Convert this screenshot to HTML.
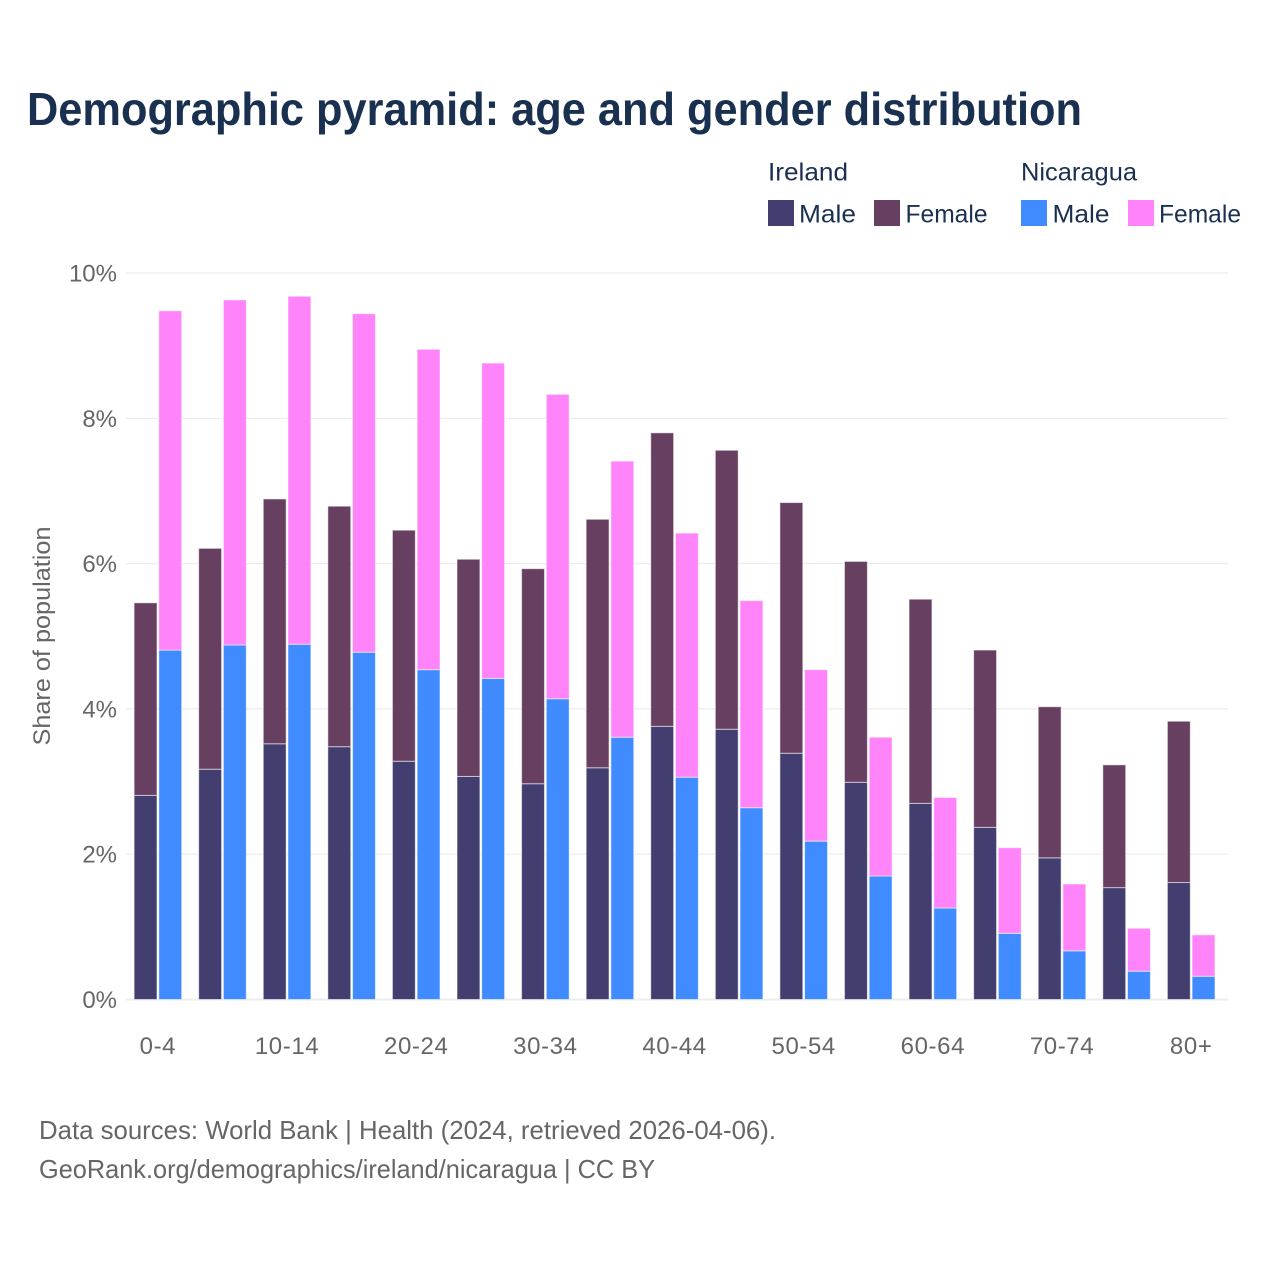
<!DOCTYPE html>
<html lang="en">
<head>
<meta charset="utf-8">
<title>Demographic pyramid: age and gender distribution</title>
<style>
html,body{margin:0;padding:0;background:#fff;width:1280px;height:1280px;overflow:hidden}
svg{display:block;font-family:"Liberation Sans",sans-serif}
</style>
</head>
<body>
<svg id="chart" xmlns="http://www.w3.org/2000/svg" width="1280" height="1280" viewBox="0 0 1280 1280">
  <rect width="1280" height="1280" fill="#ffffff"/>
  <text x="27" y="125" font-size="46" font-weight="700" fill="#1a3050" textLength="1055" lengthAdjust="spacingAndGlyphs">Demographic pyramid: age and gender distribution</text>

  <g font-size="25" fill="#1a3050">
    <text x="768" y="180.5" textLength="80" lengthAdjust="spacingAndGlyphs">Ireland</text>
    <text x="1021" y="180.5" textLength="116" lengthAdjust="spacingAndGlyphs">Nicaragua</text>
    <rect x="768" y="200" width="26" height="26" fill="#423f70"/>
    <text x="799" y="222.5" textLength="57" lengthAdjust="spacingAndGlyphs">Male</text>
    <rect x="874" y="200" width="26" height="26" fill="#674061"/>
    <text x="905.5" y="222.5" textLength="82" lengthAdjust="spacingAndGlyphs">Female</text>
    <rect x="1021" y="200" width="26" height="26" fill="#3f8bff"/>
    <text x="1052.5" y="222.5" textLength="57" lengthAdjust="spacingAndGlyphs">Male</text>
    <rect x="1128" y="200" width="26" height="26" fill="#ff84fa"/>
    <text x="1159" y="222.5" textLength="82" lengthAdjust="spacingAndGlyphs">Female</text>
  </g>

  <g id="grid"></g>
  <g id="bars"></g>
  <g id="yticks"></g>
  <g id="xticks"></g>

  <text transform="translate(50,636) rotate(-90)" text-anchor="middle" font-size="24" fill="#666666" textLength="219" lengthAdjust="spacingAndGlyphs">Share of population</text>

  <text x="39" y="1139" font-size="26" fill="#666666" textLength="737" lengthAdjust="spacingAndGlyphs">Data sources: World Bank | Health (2024, retrieved 2026-04-06).</text>
  <text x="39" y="1178" font-size="26" fill="#666666" textLength="616" lengthAdjust="spacingAndGlyphs">GeoRank.org/demographics/ireland/nicaragua | CC BY</text>
</svg>
<script>
const categories = ["0-4","5-9","10-14","15-19","20-24","25-29","30-34","35-39","40-44","45-49","50-54","55-59","60-64","65-69","70-74","75-79","80+"];
const irelandMale = [2.81,3.17,3.52,3.48,3.28,3.07,2.97,3.19,3.76,3.72,3.39,2.99,2.70,2.37,1.95,1.54,1.61];
const irelandFemale = [2.65,3.04,3.37,3.31,3.18,2.99,2.96,3.42,4.04,3.84,3.45,3.04,2.81,2.44,2.08,1.69,2.22];
const nicaraguaMale = [4.81,4.88,4.89,4.78,4.54,4.42,4.14,3.61,3.06,2.64,2.18,1.70,1.26,0.91,0.67,0.39,0.32];
const nicaraguaFemale = [4.67,4.75,4.79,4.66,4.41,4.34,4.19,3.80,3.36,2.85,2.36,1.91,1.52,1.18,0.92,0.59,0.57];
const yTickValues = [0,2,4,6,8,10];
const xTickLabels = ["0-4","10-14","20-24","30-34","40-44","50-54","60-64","70-74","80+"];

const NS = "http://www.w3.org/2000/svg";
const plotLeft = 126, plotRight = 1228, y0 = 999.5, pxPerUnit = 72.65;
const centerFirst = 157.9, step = 64.58, barW = 22.9, barGap = 0.9;

function yScale(v) { return y0 - v * pxPerUnit; }
function xCenter(i) { return centerFirst + i * step; }

const gridG = document.getElementById("grid");
const barsG = document.getElementById("bars");
const yG = document.getElementById("yticks");
const xG = document.getElementById("xticks");

yTickValues.forEach(function (t) {
  const line = document.createElementNS(NS, "line");
  
  
  line.setAttribute("x1", plotLeft);
  line.setAttribute("x2", plotRight);
  line.setAttribute("y1", yScale(t));
  line.setAttribute("y2", yScale(t));
  line.setAttribute("stroke", "#ececef");
  line.setAttribute("stroke-width", t === 0 ? 2 : 1.2);
  gridG.appendChild(line);

  const label = document.createElementNS(NS, "text");
  
  
  label.setAttribute("x", 117);
  label.setAttribute("y", yScale(t) + 8.5);
  label.setAttribute("text-anchor", "end");
  label.setAttribute("font-size", 24);
  label.setAttribute("fill", "#666666");
  label.textContent = t + "%";
  yG.appendChild(label);
});

function addBar(x, base, value, color) {
  const r = document.createElementNS(NS, "rect");
  
  
  r.setAttribute("x", x);
  r.setAttribute("y", yScale(base + value));
  r.setAttribute("width", barW);
  r.setAttribute("height", yScale(base) - yScale(base + value));
  r.setAttribute("fill", color);
  r.setAttribute("stroke", "#ffffff");
  r.setAttribute("stroke-opacity", "0.55");
  r.setAttribute("stroke-width", "1");
  barsG.appendChild(r);
}

categories.forEach(function (c, i) {
  const cx = xCenter(i);
  addBar(cx - barW - barGap, 0, irelandMale[i], "#423f70");
  addBar(cx - barW - barGap, irelandMale[i], irelandFemale[i], "#674061");
  addBar(cx + barGap, 0, nicaraguaMale[i], "#3f8bff");
  addBar(cx + barGap, nicaraguaMale[i], nicaraguaFemale[i], "#ff84fa");

  if (xTickLabels.indexOf(c) !== -1) {
    const label = document.createElementNS(NS, "text");
    
    
    label.setAttribute("x", cx);
    label.setAttribute("y", 1054);
    label.setAttribute("text-anchor", "middle");
    label.setAttribute("font-size", 24);
    label.setAttribute("letter-spacing", "0.6");
    label.setAttribute("fill", "#666666");
    label.textContent = c;
    xG.appendChild(label);
  }
});
</script>
</body>
</html>
